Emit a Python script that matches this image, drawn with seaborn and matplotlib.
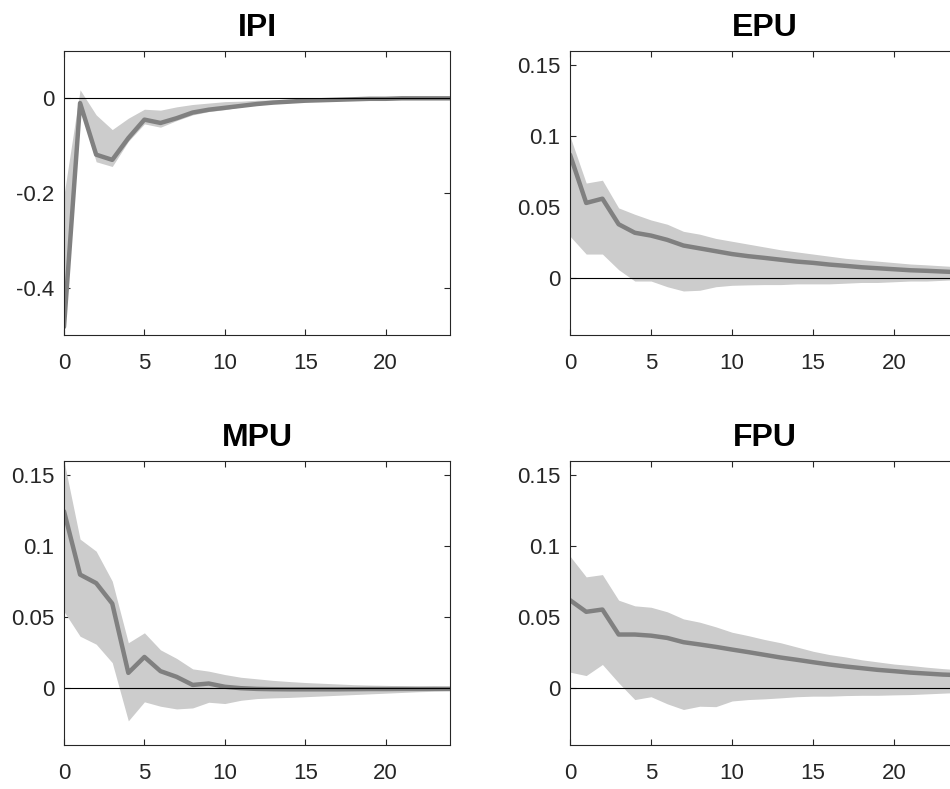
import seaborn as sns
import matplotlib.pyplot as plt
import matplotlib.ticker as mticker
import numpy as np

# impulse responses, horizons 0..24
horizon = list(range(25))

ipi_irf = [-0.483, -0.010, -0.119, -0.130, -0.084, -0.045, -0.052, -0.042, -0.030, -0.024,
           -0.020, -0.016, -0.012, -0.009, -0.007, -0.005, -0.004, -0.003, -0.002, -0.001,
           -0.001, 0.000, 0.000, 0.000, 0.000]
ipi_hi = [-0.204, 0.018, -0.035, -0.066, -0.042, -0.023, -0.025, -0.018, -0.013, -0.010,
          -0.007, -0.006, -0.004, -0.003, -0.002, -0.001, 0.000, 0.000, 0.001, 0.001,
          0.001, 0.001, 0.001, 0.001, 0.001]
ipi_lo = [-0.490, -0.020, -0.134, -0.144, -0.091, -0.054, -0.061, -0.047, -0.035, -0.028,
          -0.024, -0.018, -0.014, -0.011, -0.009, -0.007, -0.005, -0.004, -0.003, -0.002,
          -0.002, -0.001, -0.001, -0.001, -0.001]

epu_irf = [0.087, 0.053, 0.056, 0.038, 0.032, 0.030, 0.027, 0.023, 0.021, 0.019,
           0.017, 0.0155, 0.0143, 0.013, 0.0117, 0.0108, 0.0096, 0.0087, 0.0077, 0.007,
           0.0063, 0.0056, 0.0052, 0.0047, 0.0042]
epu_hi = [0.100, 0.067, 0.069, 0.0495, 0.045, 0.041, 0.038, 0.033, 0.031, 0.028,
          0.026, 0.024, 0.022, 0.020, 0.0185, 0.017, 0.0155, 0.014, 0.013, 0.012,
          0.011, 0.010, 0.0094, 0.0087, 0.008]
epu_lo = [0.0296, 0.017, 0.017, 0.006, -0.002, -0.002, -0.006, -0.009, -0.0085, -0.006,
          -0.005, -0.0047, -0.0045, -0.0045, -0.004, -0.004, -0.004, -0.0035, -0.003, -0.003,
          -0.0025, -0.002, -0.002, -0.0015, -0.001]

mpu_irf = [0.1246, 0.080, 0.074, 0.0596, 0.0108, 0.022, 0.012, 0.008, 0.0023, 0.0033,
           0.001, 0.000, -0.0005, -0.0007, -0.0008, -0.0008, -0.0008, -0.0008, -0.0007, -0.0006,
           -0.0006, -0.0005, -0.0005, -0.0004, -0.0004]
mpu_hi = [0.160, 0.105, 0.0965, 0.0754, 0.032, 0.039, 0.027, 0.021, 0.0136, 0.012,
          0.0096, 0.0077, 0.0066, 0.0055, 0.0047, 0.004, 0.0035, 0.003, 0.0025, 0.0022,
          0.002, 0.0017, 0.0015, 0.0013, 0.0012]
mpu_lo = [0.054, 0.0366, 0.031, 0.018, -0.023, -0.0096, -0.0127, -0.0146, -0.0139, -0.0099,
          -0.0108, -0.0085, -0.0073, -0.0068, -0.0065, -0.006, -0.0055, -0.005, -0.0045, -0.004,
          -0.0035, -0.003, -0.0025, -0.0022, -0.002]

fpu_irf = [0.062, 0.0538, 0.0554, 0.0378, 0.0378, 0.037, 0.0354, 0.0324, 0.0308, 0.0291,
           0.0272, 0.0254, 0.0235, 0.0216, 0.020, 0.0183, 0.0167, 0.0153, 0.0141, 0.0129,
           0.012, 0.011, 0.0103, 0.0096, 0.0092]
fpu_hi = [0.093, 0.0784, 0.080, 0.062, 0.058, 0.057, 0.0538, 0.0488, 0.0465, 0.0432,
          0.0394, 0.037, 0.0343, 0.032, 0.029, 0.026, 0.0237, 0.022, 0.020, 0.0185,
          0.017, 0.016, 0.0148, 0.0138, 0.013]
fpu_lo = [0.0113, 0.0089, 0.0167, 0.0038, -0.008, -0.006, -0.011, -0.015, -0.0127, -0.013,
          -0.009, -0.008, -0.0075, -0.0068, -0.006, -0.0056, -0.0056, -0.0052, -0.005, -0.005,
          -0.0047, -0.0045, -0.004, -0.0035, -0.003]

titles = ["IPI", "EPU", "MPU", "FPU"]
irfs = [ipi_irf, epu_irf, mpu_irf, fpu_irf]
his = [ipi_hi, epu_hi, mpu_hi, fpu_hi]
los = [ipi_lo, epu_lo, mpu_lo, fpu_lo]
ylims = [(-0.5, 0.1), (-0.04, 0.16), (-0.04, 0.16), (-0.04, 0.16)]
yticks = [[-0.4, -0.2, 0], [0, 0.05, 0.1, 0.15], [0, 0.05, 0.1, 0.15], [0, 0.05, 0.1, 0.15]]

sns.set_style("ticks")
plt.rcParams['font.family'] = ['Liberation Sans', 'DejaVu Sans']
plt.rcParams['axes.unicode_minus'] = False

fig = plt.figure(figsize=(9.5, 7.89), dpi=100)
W, H = 950, 789
# axes boxes in pixels: left, top, right, bottom
boxes = [(64, 51, 450, 335), (570, 51, 959, 335),
         (64, 461, 450, 745), (570, 461, 959, 745)]

for i, (l, t, r, b) in enumerate(boxes):
    ax = fig.add_axes([l / W, 1 - b / H, (r - l) / W, (b - t) / H])
    ax.fill_between(horizon, los[i], his[i], color='#cccccc', lw=0)
    sns.lineplot(x=horizon, y=irfs[i], ax=ax, color='#808080', lw=3.2)
    ax.axhline(0, color='black', lw=0.8)
    ax.set_xlim(0, 24)
    ax.set_ylim(*ylims[i])
    ax.set_xticks([0, 5, 10, 15, 20])
    ax.set_yticks(yticks[i])
    ax.yaxis.set_major_formatter(mticker.FuncFormatter(lambda v, p: '%g' % v))
    ax.tick_params(direction='in', length=4, width=0.8, color='#262626',
                   labelsize=16, labelcolor='#262626',
                   top=True, right=True, pad=7)
    ax.tick_params(axis='x', pad=13)
    for s in ax.spines.values():
        s.set_linewidth(0.8)
        s.set_color('#262626')
    ax.set_title(titles[i], fontsize=23, fontweight='bold', color='black', pad=11)

fig.savefig("out.png", dpi=100)
